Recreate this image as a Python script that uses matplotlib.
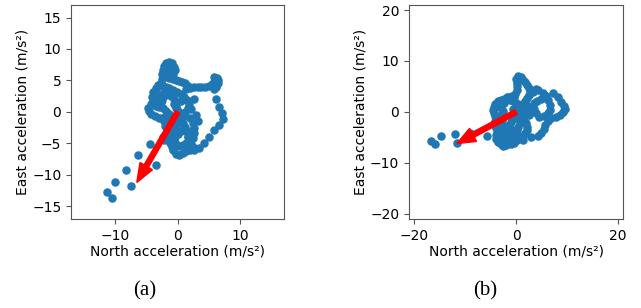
import matplotlib
matplotlib.use("Agg")
import matplotlib.pyplot as plt

# --- dati (a): accelerazione nord/est ---
a_north = [-2.6, -2.5, -2.4, -2.3, -2.2, -1.9, -1.4, -0.9, -0.5, -0.4, -0.7, -1.1, -1.5, -1.8, -1.7,
           -1.3, -0.8, -0.3, 0.2, 0.7, 1.2, 1.6, 2.0,
           2.6, 3.2, 3.8, 4.4, 5.0, 5.5, 5.8, 6.0, 6.3, 6.5, 6.4, 6.1, 5.8, 6.2, 5.9,
           6.2, 6.7, 7.1, 7.2, 6.6, 5.9, 5.0, 4.2, 3.4, 2.7, 2.0, 1.4, 0.8, 0.2, -0.3, -0.7, -0.9,
           -1.2, -1.4, -1.2, -0.8, -0.4, 0.0, 0.4, 0.8, 1.2, 1.6, 1.8, 1.5, 1.0, 0.5, -0.1, -0.7,
           -1.3, -1.9, -2.5, -3.1, -3.5, -3.9, -4.1, -3.9, -4.3, -4.7, -4.6, -4.2, -3.6, -3.0,
           -2.4, -1.8, -1.4, -1.8, -2.3, -2.9, -3.5, -3.0, -2.5, -2.2, -2.0, -1.5, -1.0, -0.6,
           -0.5, -0.3, 0.1, 0.5, 0.7, 0.9, 1.2, 1.4, 1.6, 1.8, 2.2, 2.5,
           2.0, 2.4, 2.6, 2.7, 2.5, 2.0, 1.4, 0.8, 0.2, -0.3, -0.6, -0.4, 0.1, 0.6, 1.0,
           -2.2, -2.0, -1.6, -1.0, -2.3, -2.1, -1.7, -2.9, -3.3, -2.7,
           1.3, 2.6, 3.0, 3.3, 2.2, 1.7, 2.1, 0.3, -0.5, -1.0, -0.2, 0.6,
           -11.2, -10.5, -10.0, -8.3, -7.5, -6.3, -4.4, -3.5]
a_east = [4.6, 5.3, 6.0, 6.7, 7.3, 7.8, 7.9, 7.7, 7.2, 6.6, 6.1, 6.3, 6.9, 6.4, 5.8,
          5.4, 5.2, 5.0, 4.9, 4.8, 4.6, 4.2, 3.8,
          3.9, 3.9, 4.0, 4.0, 4.2, 4.4, 4.8, 5.2, 5.4, 5.1, 4.6, 4.1, 3.7, 3.9, 5.6,
          2.0, 0.8, -0.2, -1.1, -2.1, -2.9, -4.0, -5.0, -5.7, -6.0, -6.1, -6.2, -6.5, -6.9, -6.6, -6.1, -5.5,
          -4.9, -4.3, -3.6, -3.0, -2.4, -1.8, -1.2, -0.6, 0.0, 0.6, 1.3, 1.9, 2.4, 2.8, 3.2, 3.5,
          3.8, 4.0, 4.1, 4.3, 3.8, 3.1, 2.4, 1.7, 1.2, 0.7, 0.1, -0.3, -0.7, -0.9,
          -0.9, -0.7, -0.3, 0.2, 0.6, 0.8, 0.9, 1.5, 1.9, 2.5, 3.1, 3.0, 2.5, 2.0,
          1.3, 0.6, 0.2, -0.3, -1.0, -1.7, -2.4, -3.1, -3.8, -4.5, -5.1, -5.6,
          -1.0, -1.7, -2.5, -3.3, -4.1, -4.6, -5.0, -5.2, -5.4, -5.1, -4.5, -3.9, -3.5, -3.0, -2.4,
          -1.5, -2.2, -2.8, -3.3, -3.9, -4.4, -3.5, 2.8, 2.2, 1.6,
          3.7, 2.1, -0.5, -1.5, 0.5, -4.0, -3.0, -1.2, -2.0, -1.5, 1.0, 1.8,
          -12.7, -13.6, -11.2, -9.2, -11.8, -6.9, -5.1, -8.5]

# --- dati (b) ---
b_north = [0.4, 0.9, 1.3, 1.7, 2.1, 2.5, 2.8, 2.6, 2.2, 1.8, 1.4, 1.0, 0.6, 0.2, -0.2, -0.6, -1.0,
           -1.4, -1.8, -2.2, -2.6, -3.0, -3.3, -3.0, -2.5, -1.9, -1.4, -0.9, -0.5, -0.2, 0.1, 0.4,
           0.7, 1.0, 1.3, 1.5, 1.3, 0.9, 0.4, -0.1, -0.6, -1.2, -1.8, -2.4, -3.0, -3.6, -4.1, -4.4,
           -4.5, -4.4, -4.2, -3.8, -3.3, -2.9, -2.6, -2.9, -3.4, -3.9,
           0.0, 0.1, 0.2, 0.1, -0.1, -0.3, -0.8, -1.3, -1.8, -2.4,
           -4.2, -4.1, -3.9, -3.8, -3.9, -4.0, -3.6, -2.4, -1.9, -1.5, -1.2, -2.7, -3.2, -5.6,
           1.6, 1.9, 2.2, 2.1, 1.8, 1.4, 0.8, 0.2, -0.4, -1.0, 2.5, 3.0, 2.5, 2.0, 0.5, -0.5,
           1.3, 3.0, 4.4, 4.9, 5.4, 5.7,
           3.3, 3.9, 4.4, 5.3, 5.9, 7.3, 8.3, 8.9, 9.4, 9.6, 9.3, 8.6, 7.8, 6.9, 6.2,
           3.6, 4.2, 5.0, 6.3, 6.7, 6.6, 6.2, 5.4, 4.6, 4.0, 3.5,
           -16.7, -15.9, -14.7, -11.9, -11.5, -9.1]
b_east = [7.1, 6.8, 6.3, 5.8, 5.3, 4.7, 4.1, 3.4, 2.8, 2.2, 1.6, 1.0, 0.4, -0.2, -0.8, -1.4, -2.0,
          -2.6, -3.2, -3.8, -4.4, -5.0, -5.6, -6.2, -6.6, -6.5, -6.1, -5.6, -5.0, -4.3, -3.6, -2.9,
          -2.2, -1.5, -0.8, -0.1, 0.6, 1.1, 1.5, 1.9, 2.2, 2.4, 2.5, 2.5, 2.4, 2.1, 1.6, 1.0,
          0.4, -0.2, -0.8, -1.2, -1.0, -0.5, 0.1, 0.7, 1.1, 1.2,
          6.4, 5.7, 5.0, 4.3, 3.6, 2.9, 3.2, 2.9, 3.0, 1.8,
          -1.8, -2.5, -3.2, -3.9, -4.6, -5.3, -5.9, -5.2, -4.6, -4.0, -3.2, -2.0, -3.0, -4.8,
          -1.5, -2.2, -2.9, -3.6, -4.2, -4.7, -5.0, -5.5, -6.0, -6.3, -0.5, 0.2, 1.0, 1.4, -1.0, 0.5,
          -5.5, -5.0, -4.8, -4.2, -3.3, -2.6,
          4.0, 4.5, 4.4, 3.8, 3.2, 3.7, 2.9, 2.0, 1.2, 0.6, 0.0, -0.6, -1.0, -1.2, -1.8,
          1.7, 2.2, 2.6, 2.4, 1.4, 0.4, -0.3, -0.8, -0.9, -0.2, 0.6,
          -5.7, -6.3, -4.7, -4.3, -6.1, -4.1]

# direzione media (freccia rossa)
a_arrow = (-6.5, -11.2)
b_arrow = (-11.6, -6.2)

lims = {"a": 17, "b": 21}
ticks = {"a": [-15, -10, -5, 0, 5, 10, 15], "b": [-20, -10, 0, 10, 20]}
xticks = {"a": [-10, 0, 10], "b": [-20, 0, 20]}

fig = plt.figure(figsize=(6.41, 3.08), dpi=100)
ax1 = fig.add_axes([0.1108, 0.289, 0.3323, 0.695])
ax2 = fig.add_axes([0.638, 0.289, 0.334, 0.695])

panels = [(ax1, "a", a_north, a_east, a_arrow, 0.8, 2.3, 3.0, 145),
          (ax2, "b", b_north, b_east, b_arrow, 1.0, 2.9, 3.6, 485)]
for ax, k, xs, ys, arr, w, hw, hl, cx in panels:
    ax.scatter(xs, ys, s=26, color="#1f77b4", zorder=2)
    ax.arrow(0, 0, arr[0], arr[1], width=w, head_width=hw, head_length=hl,
             length_includes_head=True, color="red", zorder=3)
    L = lims[k]
    ax.set_xlim(-L, L); ax.set_ylim(-L, L)
    ax.set_xticks(xticks[k]); ax.set_yticks(ticks[k])
    ax.set_xticklabels([f"{t}".replace("-", "\u2212") for t in xticks[k]])
    ax.set_yticklabels([f"{t}".replace("-", "\u2212") for t in ticks[k]])
    ax.tick_params(labelsize=10, length=3.5, color="#555555")
    for s in ax.spines.values():
        s.set_color("#555555")
    ax.set_xlabel("North acceleration (m/s²)", fontsize=10, labelpad=1)
    ax.set_ylabel("East acceleration (m/s²)", fontsize=10, labelpad=2)
    fig.text(cx / 641, 1 - 291 / 308, f"({k})", ha="center", va="center",
             fontsize=15, family="Liberation Serif")

fig.savefig("out.png", dpi=100)
